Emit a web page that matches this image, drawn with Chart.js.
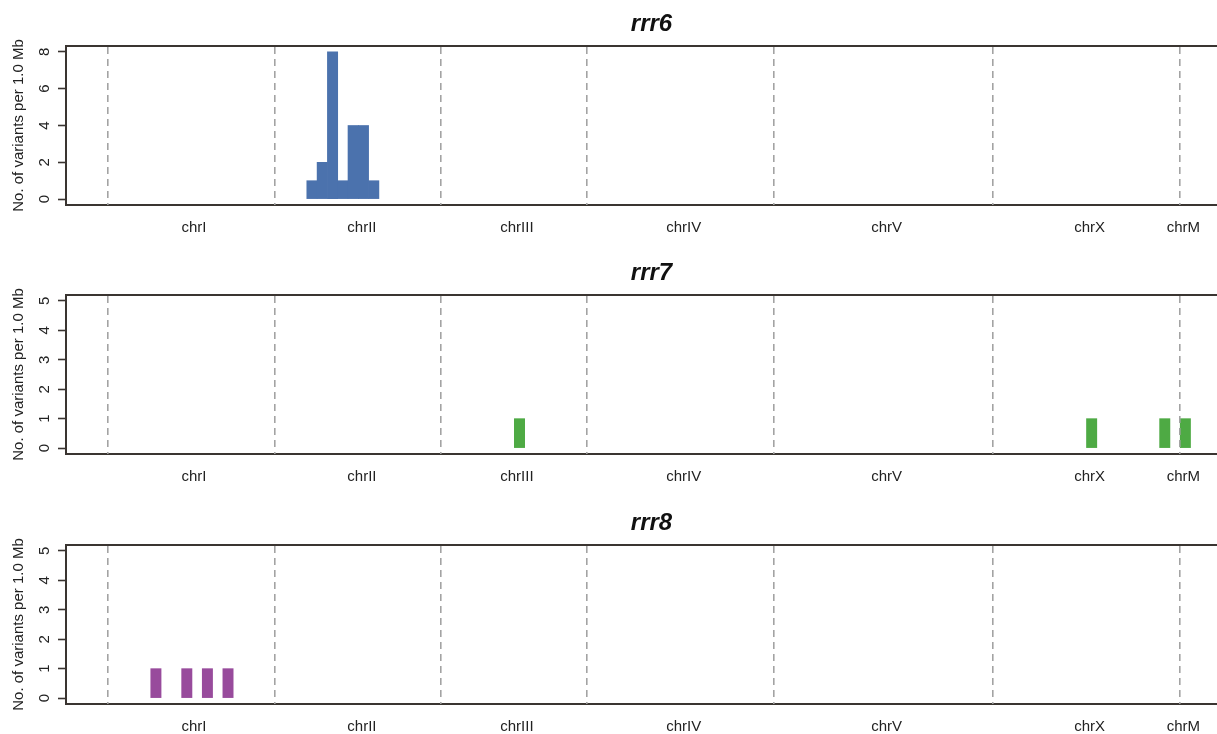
<!DOCTYPE html>
<html>
<head>
<meta charset="utf-8">
<script src="https://cdn.jsdelivr.net/npm/chart.js@4.4.1/dist/chart.umd.min.js"></script>
<style>
  html, body { margin: 0; padding: 0; background: #fff; }
  #wrap { position: relative; width: 1217px; height: 734px; overflow: hidden; }
  .panel { position: absolute; left: 0; width: 1217px; height: 235px; }
</style>
</head>
<body>
<div id="wrap">
  <div class="panel" style="top:0px"><canvas id="chart6"></canvas></div>
  <div class="panel" style="top:249px"><canvas id="chart7"></canvas></div>
  <div class="panel" style="top:499px"><canvas id="chart8"></canvas></div>
</div>
<script>
/* ============= Data: ============= */
var chrNames = ['chrI', 'chrII', 'chrIII', 'chrIV', 'chrV', 'chrX', 'chrM'];
// genome position (Mb) where each chromosome starts (dashed lines)
var chrStarts = [0, 16.2, 32.3, 46.5, 64.6, 85.9, 104.1];
// where the chromosome names sit (Mb)
var chrLabelPos = [8.35, 24.65, 39.7, 55.9, 75.6, 95.3, 104.4];
var binSize = 1.0;

// bin starts (Mb, genome coordinates) and variant counts
var rrr6Bins = [19.3, 20.3, 21.3, 22.3, 23.3, 24.3, 25.3];
var rrr6Counts = [1, 2, 8, 1, 4, 4, 1];
var rrr7Bins = [39.45, 95.0, 102.1, 104.1];
var rrr7Counts = [1, 1, 1, 1];
var rrr8Bins = [4.15, 7.15, 9.15, 11.15];
var rrr8Counts = [1, 1, 1, 1];

var ticks6 = [0, 2, 4, 6, 8];
var ticks78 = [0, 1, 2, 3, 4, 5];

/* ============= Layout / style: ============= */
var xMin = -4.08, xMax = 107.67;
var canvasWidth = 1217;
var yAxisWidth = 66;
var pxPerMb = (canvasWidth - yAxisWidth) / (xMax - xMin);
var frameColor = '#3a3531';
var textColor = '#222';
var fontFamily = '"Liberation Sans", Arial, Helvetica, sans-serif';

Chart.defaults.font.family = fontFamily;
Chart.defaults.color = textColor;

var panelTitlePlugin = {
  id: 'panelTitle',
  afterDraw: function (chart, args, opts) {
    var ctx = chart.ctx;
    var area = chart.chartArea;
    ctx.save();
    ctx.font = 'italic bold 24px ' + fontFamily;
    ctx.fillStyle = '#111';
    ctx.textAlign = 'center';
    ctx.textBaseline = 'alphabetic';
    ctx.fillText(opts.text, (area.left + area.right) / 2 + opts.shift, area.top - 15);
    ctx.restore();
  }
};

/* ============= Functions: ============= */
function makePanel(id, title, bins, counts, color, yMin, yMax, yTicks) {
  var points = [];
  for (var i = 0; i < bins.length; i++) {
    points.push({ x: bins[i] + binSize / 2, y: counts[i] });
  }

  var ctx = document.getElementById(id).getContext('2d');
  return new Chart(ctx, {
    type: 'bar',
    data: {
      datasets: [{
        data: points,
        backgroundColor: color,
        borderWidth: 0,
        barThickness: pxPerMb * binSize
      }]
    },
    options: {
      responsive: true,
      maintainAspectRatio: false,
      animation: false,
      layout: { padding: { top: 46, left: 0, right: 0, bottom: 0 } },
      plugins: {
        legend: { display: false },
        tooltip: { enabled: false },
        panelTitle: { text: title, shift: 10 }
      },
      scales: {
        x: {
          type: 'linear',
          position: 'bottom',
          offset: false,
          min: xMin,
          max: xMax,
          afterBuildTicks: function (scale) {
            scale.ticks = chrLabelPos.map(function (v) { return { value: v }; });
          },
          afterFit: function (scale) { scale.height = 30; },
          ticks: {
            autoSkip: false,
            maxRotation: 0,
            padding: 14,
            font: { size: 15 },
            color: textColor,
            callback: function (value, index) { return chrNames[index]; }
          },
          grid: { display: false, drawTicks: false, offset: false },
          border: { display: true, color: frameColor, width: 2 }
        },
        xTop: {
          type: 'linear',
          position: 'top',
          offset: false,
          min: xMin,
          max: xMax,
          afterBuildTicks: function (scale) {
            scale.ticks = chrStarts.map(function (v) { return { value: v }; });
          },
          afterFit: function (scale) { scale.height = 0; },
          ticks: { display: false },
          grid: {
            display: true,
            drawOnChartArea: true,
            drawTicks: false,
            offset: false,
            color: '#a3a3a3',
            lineWidth: 1.6,
            z: 1
          },
          border: { display: true, color: frameColor, width: 2, dash: [7, 5], z: 2 }
        },
        y: {
          type: 'linear',
          position: 'left',
          min: yMin,
          max: yMax,
          afterBuildTicks: function (scale) {
            scale.ticks = yTicks.map(function (v) { return { value: v }; });
          },
          afterFit: function (scale) { scale.width = yAxisWidth; },
          ticks: {
            minRotation: 90,
            maxRotation: 90,
            crossAlign: 'center',
            padding: 9,
            font: { size: 15 },
            color: textColor
          },
          grid: {
            display: true,
            drawOnChartArea: false,
            drawTicks: true,
            tickLength: 8,
            tickWidth: 1.6,
            tickColor: frameColor
          },
          border: { display: true, color: frameColor, width: 2 },
          title: {
            display: true,
            text: 'No. of variants per 1.0 Mb',
            font: { size: 15 },
            color: textColor,
            padding: { top: 10, bottom: 0 }
          }
        }
      }
    },
    plugins: [panelTitlePlugin]
  });
}

/* ============= Main(): ============= */
makePanel('chart6', 'rrr6', rrr6Bins, rrr6Counts, '#4b72ad', -0.32, 8.32, ticks6);
makePanel('chart7', 'rrr7', rrr7Bins, rrr7Counts, '#4eaa44', -0.2, 5.2, ticks78);
makePanel('chart8', 'rrr8', rrr8Bins, rrr8Counts, '#984b9c', -0.2, 5.2, ticks78);
</script>
</body>
</html>
